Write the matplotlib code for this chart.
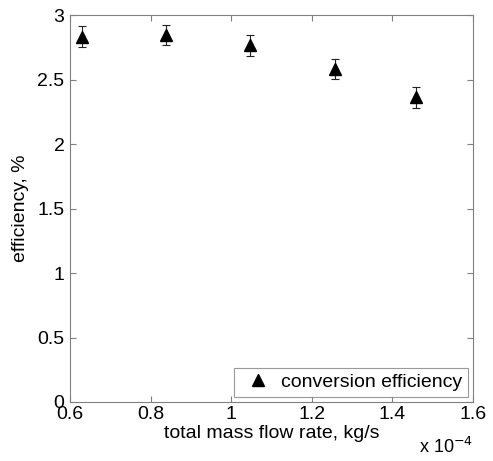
import matplotlib.pyplot as plt
import numpy as np

plt.rcParams['font.family'] = ['Liberation Sans', 'DejaVu Sans']

#data
flow_rate = [0.629, 0.838, 1.048, 1.259, 1.459]   # x 10^-4 kg/s
efficiency = [2.833, 2.847, 2.767, 2.583, 2.364]  # %
eff_err = [0.081, 0.079, 0.080, 0.081, 0.080]

x_ticks = [0.6, 0.8, 1.0, 1.2, 1.4, 1.6]
x_labels = ['0.6', '0.8', '1', '1.2', '1.4', '1.6']
y_ticks = [0, 0.5, 1, 1.5, 2, 2.5, 3]
y_labels = ['0', '0.5', '1', '1.5', '2', '2.5', '3']

fig = plt.figure(figsize=(4.93, 4.61), dpi=100)
ax = fig.add_axes([0.142, 0.128, 0.817, 0.839])

ax.errorbar(flow_rate, efficiency, yerr=eff_err, fmt='none',
            ecolor='#222222', elinewidth=0.8, capsize=3, capthick=0.8)
ax.plot(flow_rate, efficiency, '^', color='black', markersize=9,
        label='conversion efficiency')

ax.set_xlim(0.6, 1.6)
ax.set_ylim(0, 3)
ax.set_xticks(x_ticks, x_labels)
ax.set_yticks(y_ticks, y_labels)

for s in ax.spines.values():
    s.set_color('#808080')
    s.set_linewidth(0.8)
ax.tick_params(direction='in', top=True, right=True, length=4,
               color='#808080', labelsize=14, labelcolor='black')
ax.tick_params(axis='x', pad=3)
ax.tick_params(axis='y', pad=4)

ax.set_xlabel('total mass flow rate, kg/s', fontsize=14, labelpad=1)
ax.set_ylabel('efficiency, %', fontsize=14, labelpad=6)

ax.text(1.0, -0.09, r'x 10$^{-4}$', transform=ax.transAxes,
        ha='right', va='top', fontsize=13)

leg = ax.legend(loc='lower right', fontsize=14, frameon=True, fancybox=False,
                borderaxespad=0.25, handletextpad=0.3, borderpad=0.3,
                handlelength=1.8)
leg.get_frame().set_edgecolor('#808080')
leg.get_frame().set_linewidth(0.8)

fig.savefig('out.png', dpi=100)
